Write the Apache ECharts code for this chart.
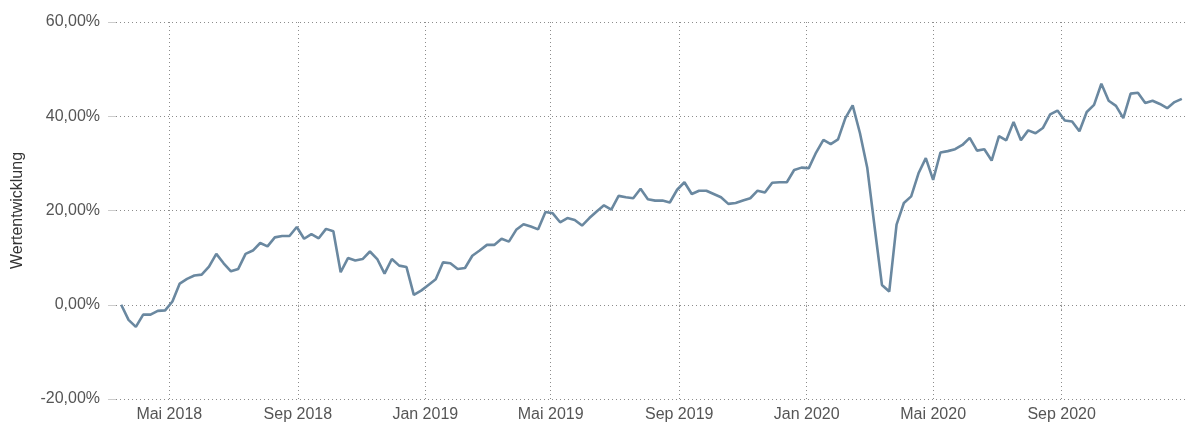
<!DOCTYPE html>
<html><head><meta charset="utf-8">
<script src="https://cdn.jsdelivr.net/npm/echarts@6/dist/echarts.min.js"></script>
<style>html,body{margin:0;padding:0;background:#fff}#c{width:1190px;height:425px}</style>
</head><body><div id="c"></div>
<script>
// weekly values starting 16 Mar 2018
const startDate = [2018, 2, 16];
const stepDays = 7;
const values = [0.0,-3.2,-4.7,-2.1,-2.1,-1.3,-1.2,0.7,4.5,5.5,6.2,6.4,8.1,10.8,8.8,7.1,7.6,10.8,11.5,13.1,12.4,14.3,14.6,14.6,16.5,14.0,15.0,14.1,16.1,
15.6,6.9,9.9,9.4,9.7,11.3,9.7,6.6,9.7,8.3,8.0,2.1,3.0,4.2,5.4,9.0,8.8,7.6,7.8,10.4,11.5,12.7,12.7,14.0,13.4,15.9,17.1,16.6,
16.0,19.7,19.4,17.5,18.4,18.0,16.8,18.4,19.8,21.1,20.2,23.1,22.8,22.6,24.6,22.4,22.1,22.1,21.7,24.4,26.0,23.5,24.2,24.2,23.5,22.8,21.4,21.6,22.1,22.6,24.2,23.8,25.9,26.0,26.0,28.6,29.1,29.0,32.3,35.0,34.1,35.1,39.6,42.3,36.4,29.0,16.5,4.2,2.8,17.0,21.6,23.0,27.9,31.1,26.5,32.3,32.6,33.0,33.9,35.4,32.7,33.0,30.6,35.8,34.9,38.8,34.9,37.0,36.4,37.5,40.4,41.2,39.1,38.9,36.8,40.9,42.4,46.9,43.3,42.2,39.6,44.8,45.0,42.8,43.3,42.6,41.7,43.0,43.7];
const tickDates = [[2018,4,1],[2018,8,1],[2019,0,1],[2019,4,1],[2019,8,1],[2020,0,1],[2020,4,1],[2020,8,1]];
const monthNames = ['Jan','Feb','Mär','Apr','Mai','Jun','Jul','Aug','Sep','Okt','Nov','Dez'];
const yMin = -20, yMax = 60, yStep = 20;
const axisRange = [[2018,2,11],[2020,11,29]];
const yName = 'Wertentwicklung';

const DAY = 86400000;
const t0 = Date.UTC(startDate[0], startDate[1], startDate[2]);
const data = values.map((v, i) => [t0 + i * stepDays * DAY, v]);
const ticks = tickDates.map(d => Date.UTC(d[0], d[1], d[2]));
const FONT = 'Liberation Sans, Arial, sans-serif';

const chart = echarts.init(document.getElementById('c'), null, {renderer: 'canvas'});
chart.setOption({
  animation: false,
  backgroundColor: '#fff',
  grid: {left: 116, right: 4, top: 22, bottom: 26, containLabel: false},
  xAxis: {
    type: 'value',
    min: Date.UTC(axisRange[0][0], axisRange[0][1], axisRange[0][2]),
    max: Date.UTC(axisRange[1][0], axisRange[1][1], axisRange[1][2]),
    axisLine: {show: false},
    axisTick: {show: true, customValues: ticks, length: 6, lineStyle: {color: '#8c8c8c', width: 1, type: [1, 3]}},
    axisLabel: {
      customValues: ticks,
      margin: 8,
      color: '#555',
      fontSize: 16,
      fontFamily: FONT,
      formatter: v => { const d = new Date(v); return monthNames[d.getUTCMonth()] + ' ' + d.getUTCFullYear(); }
    },
    splitLine: {show: true, lineStyle: {color: '#8c8c8c', width: 1, type: [1, 3]}}
  },
  yAxis: {
    type: 'value',
    min: yMin, max: yMax, interval: yStep,
    name: yName,
    nameLocation: 'middle',
    nameGap: 90,
    nameRotate: 90,
    nameTextStyle: {color: '#333', fontSize: 16, fontFamily: FONT},
    axisLine: {show: false},
    axisTick: {show: true, length: 8, lineStyle: {color: '#ccc'}},
    axisLabel: {
      margin: 16,
      color: '#555',
      fontSize: 16,
      fontFamily: FONT,
      formatter: v => v.toFixed(2).replace('.', ',') + '%'
    },
    splitLine: {show: true, lineStyle: {color: '#8c8c8c', width: 1, type: [1, 3]}}
  },
  series: [{
    type: 'line',
    data: data,
    showSymbol: false,
    lineStyle: {color: '#6a88a0', width: 2.6},
    itemStyle: {color: '#6a88a0'}
  }]
});
</script></body></html>
